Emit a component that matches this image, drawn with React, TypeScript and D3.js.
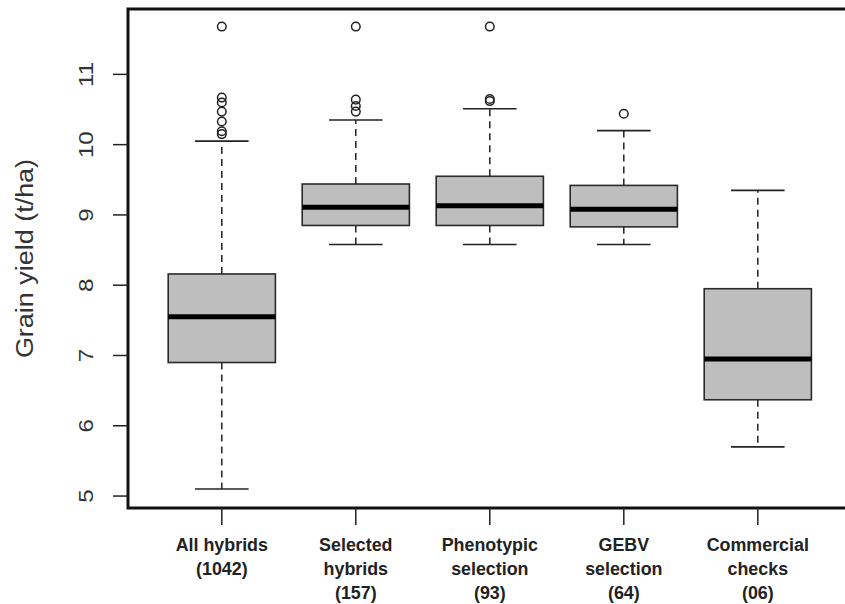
import React from "react";
import * as d3 from "d3";

const categories: string[][] = [
  ["All hybrids", "(1042)"],
  ["Selected", "hybrids", "(157)"],
  ["Phenotypic", "selection", "(93)"],
  ["GEBV", "selection", "(64)"],
  ["Commercial", "checks", "(06)"],
];
const lowerWhisker = [5.1, 8.58, 8.58, 8.58, 5.7];
const q1 = [6.9, 8.85, 8.85, 8.83, 6.37];
const median = [7.55, 9.11, 9.13, 9.08, 6.95];
const q3 = [8.16, 9.44, 9.55, 9.42, 7.95];
const upperWhisker = [10.05, 10.35, 10.51, 10.2, 9.35];
const outliers: number[][] = [
  [10.15, 10.19, 10.33, 10.47, 10.6, 10.67, 11.68],
  [10.47, 10.55, 10.64, 11.68],
  [10.62, 10.65, 11.68],
  [10.44],
  [],
];
const yTicks = [5, 6, 7, 8, 9, 10, 11];
const yTitle = "Grain yield (t/ha)";

const W = 845;
const H = 604;
const left = 128;
const top = 9;
const bottom = 508;

export default function App() {
  const x = d3.scaleLinear().domain([0.3, 5.7]).range([left, 851.6]);
  const y = d3.scaleLinear().domain([4.83, 11.93]).range([bottom, top]);
  const halfBox = x(1.4) - x(1);
  const halfCap = halfBox * 0.5;
  const font = "'Liberation Sans', Arial, Helvetica, sans-serif";

  return (
    <svg
      width={W}
      height={H}
      style={{ position: "absolute", left: 0, top: 0, background: "#fff" }}
      fontFamily={font}
    >
      {categories.map((_, i) => {
        const cx = x(i + 1);
        return (
          <g key={i}>
            <line x1={cx} x2={cx} y1={y(q3[i])} y2={y(upperWhisker[i])} stroke="#222" strokeWidth={1.5} strokeDasharray="7,5" />
            <line x1={cx} x2={cx} y1={y(q1[i])} y2={y(lowerWhisker[i])} stroke="#222" strokeWidth={1.5} strokeDasharray="7,5" />
            <line x1={cx - halfCap} x2={cx + halfCap} y1={y(upperWhisker[i])} y2={y(upperWhisker[i])} stroke="#222" strokeWidth={1.6} />
            <line x1={cx - halfCap} x2={cx + halfCap} y1={y(lowerWhisker[i])} y2={y(lowerWhisker[i])} stroke="#222" strokeWidth={1.6} />
            <rect
              x={cx - halfBox}
              width={halfBox * 2}
              y={y(q3[i])}
              height={y(q1[i]) - y(q3[i])}
              fill="#bebebe"
              stroke="#2a2a2a"
              strokeWidth={1.6}
            />
            <line x1={cx - halfBox} x2={cx + halfBox} y1={y(median[i])} y2={y(median[i])} stroke="#000" strokeWidth={5} />
            {outliers[i].map((v, j) => (
              <circle key={j} cx={cx} cy={y(v)} r={4.3} fill="none" stroke="#222" strokeWidth={1.5} />
            ))}
          </g>
        );
      })}

      <rect x={left} y={top} width={851.6 - left} height={bottom - top} fill="none" stroke="#111" strokeWidth={3} />

      {yTicks.map((t) => (
        <g key={t}>
          <line x1={113} x2={left} y1={y(t)} y2={y(t)} stroke="#222" strokeWidth={1.5} />
          <text
            transform={`translate(${92.5},${y(t)}) rotate(-90) scale(1.15,1)`}
            textAnchor="middle"
            fontSize={21}
            fill="#333"
          >
            {t}
          </text>
        </g>
      ))}
      <text
        transform={`translate(${33},${(top + bottom) / 2}) rotate(-90) scale(1.1,1)`}
        textAnchor="middle"
        fontSize={24.5}
        fill="#333"
      >
        {yTitle}
      </text>

      {categories.map((lines, i) => {
        const cx = x(i + 1);
        return (
          <g key={i}>
            <line x1={cx} x2={cx} y1={bottom} y2={525} stroke="#222" strokeWidth={1.5} />
            {lines.map((s, j) => (
              <text
                key={j}
                transform={`translate(${cx},${551 + j * 23.8}) scale(0.94,1)`}
                textAnchor="middle"
                fontSize={19}
                fontWeight="bold"
                fill="#222"
              >
                {s}
              </text>
            ))}
          </g>
        );
      })}
    </svg>
  );
}
